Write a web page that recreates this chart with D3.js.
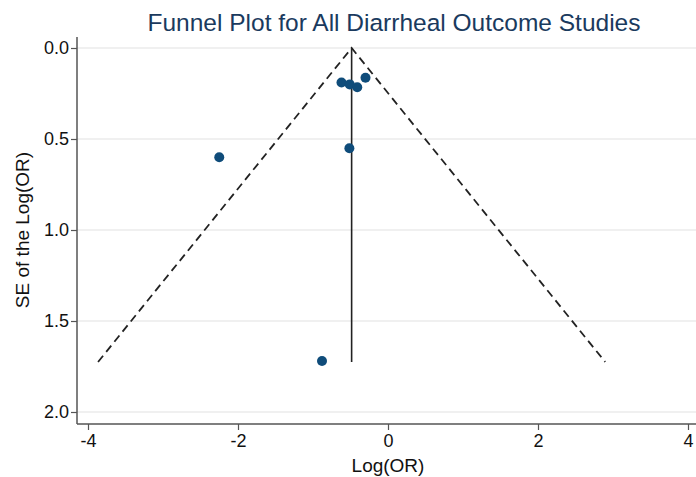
<!DOCTYPE html>
<html><head><meta charset="utf-8">
<script src="https://cdn.jsdelivr.net/npm/d3@7"></script>
<style>body{margin:0;background:#fff}svg{display:block;font-family:"Liberation Sans",Arial,sans-serif}</style>
</head><body><svg id="c" width="696" height="477"></svg>
<script>
const logOR = [-2.25, -0.88, -0.515, -0.62, -0.51, -0.41, -0.30];
const seLogOR = [0.60, 1.72, 0.551, 0.19, 0.20, 0.216, 0.163];
const pooled = -0.485;
const maxSE = 1.725;
const xTicks = [-4, -2, 0, 2, 4];
const yTicks = [0.0, 0.5, 1.0, 1.5, 2.0];
const title = "Funnel Plot for All Diarrheal Outcome Studies";
const xLabel = "Log(OR)";
const yLabel = "SE of the Log(OR)";

(function () {
const svg = d3.select("#c");
const x = d3.scaleLinear().domain([-4, 4]).range([88, 688]);
const y = d3.scaleLinear().domain([0, 2]).range([48, 412]);
const pLeft = 77, pBottom = 424, pTop = 37, pRight = 696;

svg.append("g").selectAll("line").data(yTicks).join("line")
  .attr("x1", pLeft).attr("x2", pRight).attr("y1", d => y(d)).attr("y2", d => y(d))
  .attr("stroke", "#ebebeb").attr("stroke-width", 1.5);

const yAxis = svg.append("g").attr("transform", `translate(${pLeft},0)`)
  .call(d3.axisLeft(y).tickValues(yTicks).tickFormat(d3.format(".1f")).tickSize(6).tickSizeOuter(0));
yAxis.select(".domain").attr("d", `M0,${pTop}V${pBottom}`);
const xAxis = svg.append("g").attr("transform", `translate(0,${pBottom})`)
  .call(d3.axisBottom(x).tickValues(xTicks).tickFormat(d => d < 0 ? "-" + Math.abs(d) : d).tickSize(6).tickSizeOuter(0));
xAxis.select(".domain").attr("d", `M${pLeft},0H${pRight}`);
[yAxis, xAxis].forEach(a => {
  a.attr("font-size", 18).attr("font-family", "Liberation Sans, Arial, sans-serif");
  a.selectAll(".domain").attr("stroke", "#555").attr("stroke-width", 1.5);
  a.selectAll(".tick line").attr("stroke", "#555").attr("stroke-width", 1.2);
  a.selectAll("text").attr("fill", "#111");
});
yAxis.selectAll("text").attr("x", -8);
xAxis.selectAll("text").attr("y", 10);

const fl = [[pooled - 1.96 * maxSE, maxSE], [pooled, 0], [pooled + 1.96 * maxSE, maxSE]];
svg.append("path").attr("d", d3.line().x(d => x(d[0])).y(d => y(d[1]))(fl))
  .attr("fill", "none").attr("stroke", "#222").attr("stroke-width", 1.8).attr("stroke-dasharray", "8,5");
svg.append("line").attr("x1", x(pooled)).attr("x2", x(pooled)).attr("y1", y(0)).attr("y2", y(maxSE))
  .attr("stroke", "#222").attr("stroke-width", 1.6);

svg.append("g").selectAll("circle").data(logOR).join("circle")
  .attr("cx", d => x(d)).attr("cy", (d, i) => y(seLogOR[i])).attr("r", 5)
  .attr("fill", "#0f4c7a");

svg.append("text").attr("x", 394).attr("y", 31).attr("text-anchor", "middle")
  .attr("font-size", 24.5).attr("fill", "#1a3a5e").text(title);
svg.append("text").attr("x", 388).attr("y", 472).attr("text-anchor", "middle")
  .attr("font-size", 19).attr("fill", "#111").text(xLabel);
svg.append("text").attr("transform", "translate(29,230) rotate(-90)").attr("text-anchor", "middle")
  .attr("font-size", 19).attr("fill", "#111").text(yLabel);
})();
</script></body></html>
